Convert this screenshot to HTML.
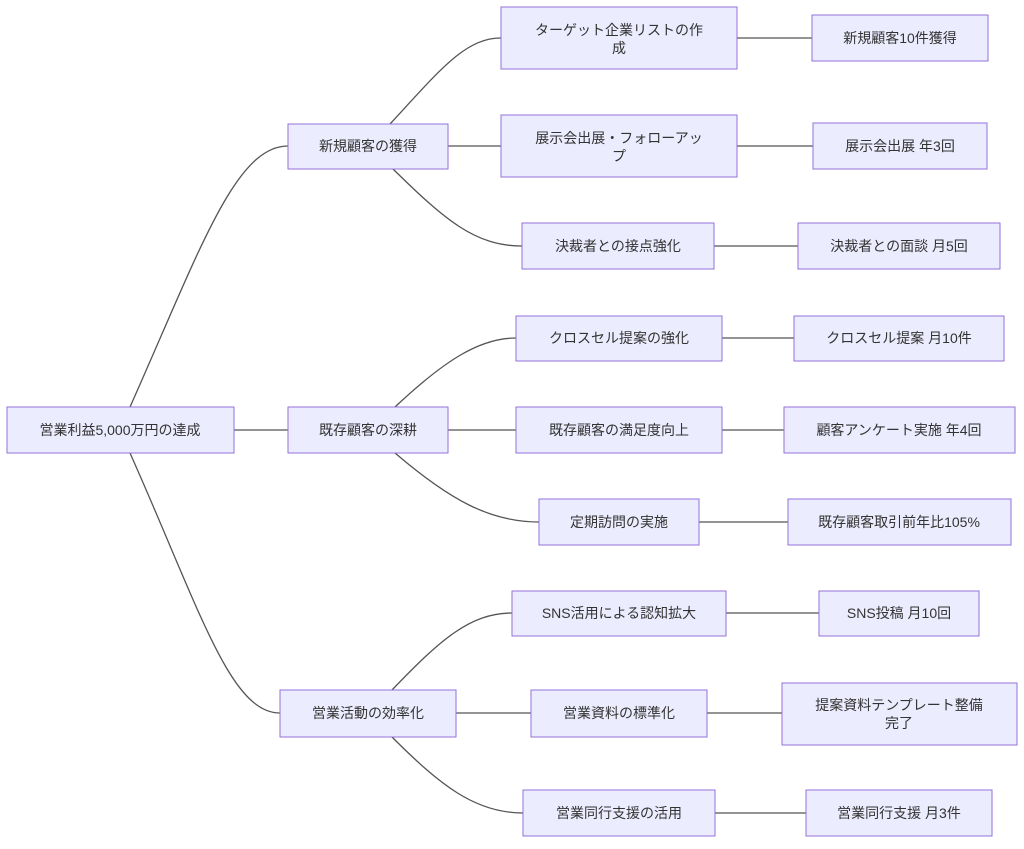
<!DOCTYPE html>
<html><head><meta charset="utf-8"><style>
body{margin:0;background:#fff;width:1024px;height:844px;overflow:hidden}
svg text{font-family:"Liberation Sans","Noto Sans CJK JP",sans-serif;font-size:14px;fill:#333;text-anchor:middle;dominant-baseline:central}
rect{fill:#ECECFF;stroke:#9370DB;stroke-width:1}
path{fill:none;stroke:#555;stroke-width:1.3}
</style></head><body>
<svg width="1024" height="844" xmlns="http://www.w3.org/2000/svg">
<path d="M130,407 C200,250 235,146 288,146"/>
<path d="M130,453 C200,610 230,713 280,713"/>
<path d="M234,430 H288"/>
<path d="M390,124 C440,70 465,38 501,38"/>
<path d="M448,146 H501"/>
<path d="M393,169 C445,220 475,246 522,246"/>
<path d="M395,407 C445,360 480,338 516,338"/>
<path d="M448,430 H516"/>
<path d="M395,453 C450,500 490,522 539,522"/>
<path d="M392,690 C440,640 470,613 512,613"/>
<path d="M456,713 H531"/>
<path d="M392,737 C440,785 475,813 523,813"/>
<path d="M737,38 H812"/><path d="M737,146 H813"/><path d="M714,246 H798"/>
<path d="M722,338 H794"/><path d="M722,430 H784"/><path d="M699,522 H788"/>
<path d="M726,613 H819"/><path d="M707,713 H782"/><path d="M715,813 H806"/>

<rect x="7" y="407" width="227" height="46"/><text x="120" y="430">営業利益5,000万円の達成</text>
<rect x="288" y="124" width="160" height="45"/><text x="368" y="146">新規顧客の獲得</text>
<rect x="288" y="407" width="160" height="46"/><text x="368" y="430">既存顧客の深耕</text>
<rect x="280" y="690" width="176" height="47"/><text x="368" y="713">営業活動の効率化</text>

<rect x="501" y="7" width="236" height="62"/><text x="619" y="30">ターゲット企業リストの作</text><text x="619" y="48">成</text>
<rect x="501" y="115" width="236" height="62"/><text x="619" y="138">展示会出展・フォローアッ</text><text x="619" y="156">プ</text>
<rect x="522" y="223" width="192" height="46"/><text x="618" y="246">決裁者との接点強化</text>
<rect x="516" y="316" width="206" height="45"/><text x="619" y="338">クロスセル提案の強化</text>
<rect x="516" y="407" width="206" height="46"/><text x="619" y="430">既存顧客の満足度向上</text>
<rect x="539" y="499" width="160" height="46"/><text x="619" y="522">定期訪問の実施</text>
<rect x="512" y="591" width="214" height="45"/><text x="619" y="613">SNS活用による認知拡大</text>
<rect x="531" y="690" width="176" height="47"/><text x="619" y="713">営業資料の標準化</text>
<rect x="523" y="790" width="192" height="46"/><text x="619" y="813">営業同行支援の活用</text>

<rect x="812" y="15" width="176" height="46"/><text x="900" y="38">新規顧客10件獲得</text>
<rect x="813" y="123" width="174" height="46"/><text x="900" y="146">展示会出展 年3回</text>
<rect x="798" y="223" width="202" height="46"/><text x="899" y="246">決裁者との面談 月5回</text>
<rect x="794" y="316" width="210" height="45"/><text x="899" y="338">クロスセル提案 月10件</text>
<rect x="784" y="407" width="231" height="46"/><text x="899" y="430">顧客アンケート実施 年4回</text>
<rect x="788" y="499" width="223" height="46"/><text x="899" y="522">既存顧客取引前年比105%</text>
<rect x="819" y="591" width="160" height="45"/><text x="899" y="613">SNS投稿 月10回</text>
<rect x="782" y="683" width="235" height="62"/><text x="899" y="705">提案資料テンプレート整備</text><text x="899" y="723">完了</text>
<rect x="806" y="790" width="186" height="46"/><text x="899" y="813">営業同行支援 月3件</text>
</svg>
</body></html>
